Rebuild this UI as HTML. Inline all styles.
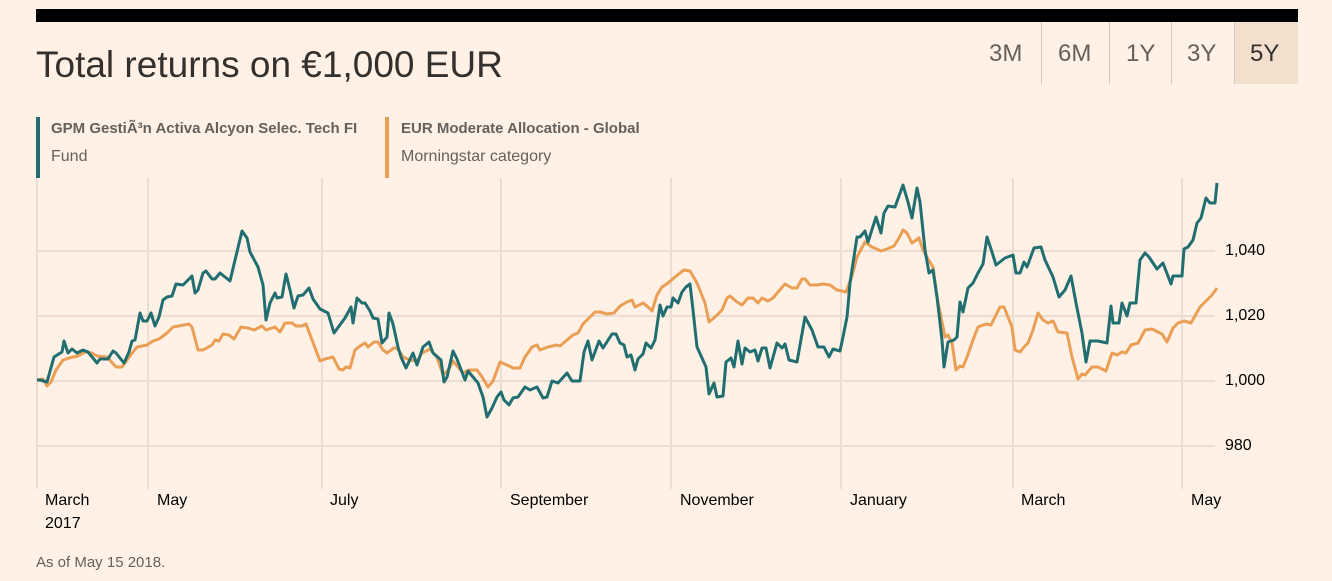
<!DOCTYPE html>
<html><head><meta charset="utf-8"><style>
body{margin:0;background:#fff1e5;width:1332px;height:581px;overflow:hidden;font-family:"Liberation Sans",sans-serif;position:relative}
.a{position:absolute;white-space:nowrap}
</style></head><body>
<div class="a" style="left:36px;top:9px;width:1262px;height:13px;background:#000"></div>
<div class="a" style="left:36px;top:44px;font-size:37px;color:#33302e;letter-spacing:0px">Total returns on €1,000 EUR</div>
<div class="a" style="left:1234px;top:22px;width:64px;height:62px;background:#f2dfce"></div>
<div class="a" style="left:1041px;top:22px;width:1px;height:62px;background:#d8c8bb"></div>
<div class="a" style="left:1109px;top:22px;width:1px;height:62px;background:#d8c8bb"></div>
<div class="a" style="left:1171px;top:22px;width:1px;height:62px;background:#d8c8bb"></div>
<div class="a" style="left:1234px;top:22px;width:1px;height:62px;background:#d8c8bb"></div>
<div class="a" style="left:989px;top:40px;font-size:24px;color:#66605c">3M</div>
<div class="a" style="left:1058px;top:40px;font-size:24px;color:#66605c">6M</div>
<div class="a" style="left:1126px;top:40px;font-size:24px;color:#66605c">1Y</div>
<div class="a" style="left:1187px;top:40px;font-size:24px;color:#66605c">3Y</div>
<div class="a" style="left:1250px;top:40px;font-size:24px;color:#33302e">5Y</div>
<div class="a" style="left:36px;top:117px;width:4px;height:61px;background:#206e71"></div>
<div class="a" style="left:385px;top:117px;width:4px;height:61px;background:#eb9f55"></div>
<div class="a" style="left:51px;top:120px;font-size:15px;font-weight:bold;color:#66605c">GPM GestiÃ³n Activa Alcyon Selec. Tech FI</div>
<div class="a" style="left:51px;top:148px;font-size:16px;color:#66605c">Fund</div>
<div class="a" style="left:401px;top:120px;font-size:15px;font-weight:bold;color:#66605c">EUR Moderate Allocation - Global</div>
<div class="a" style="left:401px;top:148px;font-size:16px;color:#66605c">Morningstar category</div>
<svg class="a" style="left:0;top:0" width="1332" height="581">
<g stroke="#ebddd1" stroke-width="2">
<line x1="37" y1="178" x2="37" y2="489"/><line x1="148" y1="178" x2="148" y2="489"/><line x1="322" y1="178" x2="322" y2="489"/><line x1="501" y1="178" x2="501" y2="489"/><line x1="671" y1="178" x2="671" y2="489"/><line x1="841" y1="178" x2="841" y2="489"/><line x1="1013" y1="178" x2="1013" y2="489"/><line x1="1182" y1="178" x2="1182" y2="489"/>
<line x1="37" y1="251" x2="1215" y2="251"/><line x1="37" y1="316" x2="1215" y2="316"/><line x1="37" y1="381" x2="1215" y2="381"/><line x1="37" y1="446" x2="1215" y2="446"/>
</g>
<polyline fill="none" stroke="#eb9f55" stroke-width="3" stroke-linejoin="round" points="37,380 43,379 47,386 51,382 56,370 63,360 69,358 78,356 85,352 92,353 97,356 107,357 116,367 122,367 127,360 133,352 137,347 147,345 153,341 159,339 167,333 173,327 184,325 189,324 192,327 198,350 203,350 212,345 215,340 219,341 223,334 229,335 234,339 241,327 248,328 254,330 262,326 266,330 275,327 280,332 285,323 292,323 296,326 302,326 306,324 320,361 325,359 333,357 339,369 343,370 346,367 350,368 355,350 360,346 365,343 368,347 374,342 378,342 383,350 387,353 394,348 397,348 403,357 410,360 417,361 422,353 430,349 437,357 443,375 449,369 453,361 458,367 463,373 469,370 477,370 482,377 488,387 493,381 500,362 507,365 513,368 520,368 525,357 532,347 537,345 540,350 548,347 557,345 560,346 567,340 573,335 578,333 583,324 590,317 595,312 600,312 607,314 614,313 620,306 627,302 632,300 635,307 643,303 647,306 652,311 657,295 662,287 668,283 675,277 680,273 684,270 690,271 697,283 705,303 709,322 715,317 722,310 727,298 730,296 737,302 742,305 748,298 753,298 758,303 762,298 768,301 773,298 778,292 785,284 792,288 797,288 802,279 805,279 810,285 817,285 823,284 830,285 837,290 846,292 852,276 857,257 865,242 872,247 881,251 887,249 894,246 899,238 903,230 907,233 912,243 919,238 923,250 928,259 933,267 937,297 942,322 945,337 948,335 952,343 956,370 960,366 963,367 967,357 973,340 978,327 986,324 991,325 995,317 1000,307 1004,307 1008,317 1012,327 1015,350 1020,352 1024,347 1028,343 1033,330 1038,313 1043,320 1048,323 1053,321 1058,332 1067,333 1072,357 1078,379 1082,374 1085,375 1092,367 1098,367 1106,371 1112,353 1117,355 1122,352 1126,353 1131,345 1138,343 1145,330 1152,329 1162,334 1167,342 1173,328 1178,323 1184,321 1191,323 1200,307 1205,302 1212,295 1217,288"/>
<polyline fill="none" stroke="#206e71" stroke-width="3" stroke-linejoin="round" points="37,380 40,380 47,382 54,357 62,352 64,341 68,353 72,349 77,353 83,350 88,352 97,363 100,359 108,359 113,351 116,353 124,363 129,352 132,341 135,340 140,313 143,321 147,321 151,313 155,326 159,317 163,300 167,297 172,296 176,284 183,285 192,276 195,293 198,290 203,273 206,271 212,279 215,279 220,273 230,281 242,231 247,238 250,252 258,267 263,285 266,320 270,303 275,293 277,298 282,297 286,274 290,290 294,308 298,296 303,295 309,288 313,299 320,309 328,313 334,333 345,318 351,307 353,323 357,298 362,303 365,303 370,311 373,318 378,319 382,343 387,337 389,313 393,324 398,347 401,357 406,368 413,353 417,365 423,347 429,342 433,353 441,360 444,382 447,377 453,351 457,359 465,380 468,371 473,377 478,383 483,397 487,417 492,408 497,397 501,392 504,400 509,405 513,398 518,397 525,387 530,390 537,387 543,398 547,397 552,381 558,383 567,373 572,381 580,381 584,352 588,341 592,360 599,341 603,348 612,334 616,334 620,343 624,345 627,357 631,355 635,370 638,359 643,354 646,343 651,348 655,340 660,305 663,316 667,307 671,307 673,298 678,303 682,292 686,287 690,284 693,310 697,347 702,358 706,367 709,394 714,383 717,397 723,396 726,362 731,358 734,367 738,341 742,364 745,348 750,352 755,350 758,361 762,348 766,348 770,368 777,343 782,348 785,344 789,360 797,362 805,317 812,330 818,347 824,347 829,357 833,349 840,351 843,337 847,317 850,283 857,237 860,237 865,231 868,242 876,217 881,233 884,213 888,206 895,207 903,185 908,202 912,218 917,188 920,202 925,250 929,273 933,270 937,297 942,340 944,367 948,342 954,340 957,337 960,302 963,312 968,288 973,283 978,273 983,264 987,237 992,252 996,265 1005,258 1013,255 1016,273 1020,273 1024,262 1027,267 1034,248 1041,247 1045,260 1053,277 1059,297 1065,290 1071,276 1076,303 1082,333 1086,362 1090,341 1098,341 1107,343 1111,306 1113,323 1119,323 1122,303 1127,316 1130,303 1136,303 1140,260 1145,253 1149,257 1157,269 1163,263 1171,284 1173,276 1182,276 1184,249 1188,247 1193,240 1197,223 1201,218 1206,198 1210,203 1215,203 1217,183"/>
</svg>
<div class="a" style="left:1225px;top:242px;font-size:16px;color:#000">1,040</div>
<div class="a" style="left:1225px;top:307px;font-size:16px;color:#000">1,020</div>
<div class="a" style="left:1225px;top:372px;font-size:16px;color:#000">1,000</div>
<div class="a" style="left:1225px;top:437px;font-size:16px;color:#000">980</div>
<div class="a" style="left:45px;top:492px;font-size:16px;color:#000">March</div>
<div class="a" style="left:45px;top:515px;font-size:16px;color:#000">2017</div>
<div class="a" style="left:157px;top:492px;font-size:16px;color:#000">May</div>
<div class="a" style="left:330px;top:492px;font-size:16px;color:#000">July</div>
<div class="a" style="left:510px;top:492px;font-size:16px;color:#000">September</div>
<div class="a" style="left:680px;top:492px;font-size:16px;color:#000">November</div>
<div class="a" style="left:850px;top:492px;font-size:16px;color:#000">January</div>
<div class="a" style="left:1021px;top:492px;font-size:16px;color:#000">March</div>
<div class="a" style="left:1191px;top:492px;font-size:16px;color:#000">May</div>
<div class="a" style="left:36px;top:554px;font-size:15px;color:#66605c">As of May 15 2018.</div>
</body></html>
